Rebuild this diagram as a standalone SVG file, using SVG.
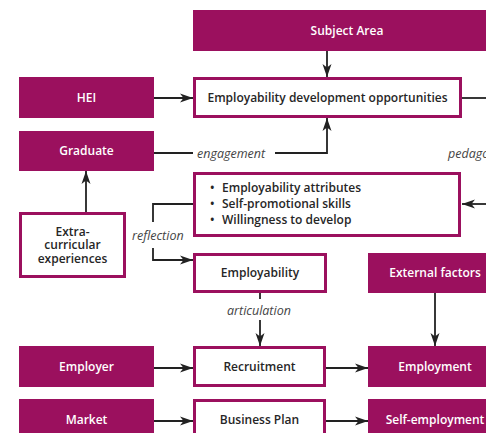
<svg xmlns="http://www.w3.org/2000/svg" width="486" height="433" viewBox="0 0 486 433">
  <style>
    .fill { fill: #9b105e; }
    .outline { fill: #ffffff; stroke: #9b105e; stroke-width: 3; }
    .lt { font-family: "Open Sans", "Liberation Sans", sans-serif; font-weight: 600; font-size: 12px; fill: #ffffff; text-anchor: middle; }
    .dt { font-family: "Open Sans", "Liberation Sans", sans-serif; font-weight: 600; font-size: 12px; fill: #262626; text-anchor: middle; }
    .bl { font-family: "Open Sans", "Liberation Sans", sans-serif; font-weight: 600; font-size: 12px; fill: #262626; }
    .it { font-family: "Open Sans", "Liberation Sans", sans-serif; font-style: italic; font-size: 12.5px; fill: #444444; }
    .ln { fill: none; stroke: #222222; stroke-width: 1.8; }
    .arr { marker-end: url(#head); }
  </style>
  <defs>
    <marker id="head" markerUnits="userSpaceOnUse" markerWidth="14" markerHeight="10" refX="13" refY="5" orient="auto">
      <path d="M0,0.5 L13,5 L0,9.5 L3.5,5 Z" fill="#222222"/>
    </marker>
  </defs>

  <rect width="486" height="433" fill="#ffffff"/>

  <!-- connectors -->
  <g id="connectors">
    <line class="ln arr" x1="327" y1="51" x2="327" y2="77"/>
    <line class="ln arr" x1="154" y1="98" x2="193" y2="98"/>
    <line class="ln" x1="462" y1="98" x2="486" y2="98"/>
    <line class="ln" x1="154" y1="153" x2="193" y2="153"/>
    <polyline class="ln arr" points="275,153 327,153 327,118"/>
    <line class="ln arr" x1="486" y1="204" x2="462" y2="204"/>
    <line class="ln arr" x1="86" y1="212" x2="86" y2="171"/>
    <polyline class="ln" points="193,204 153,204 153,222"/>
    <polyline class="ln arr" points="153,248 153,260 193,260"/>
    <line class="ln" x1="260" y1="293" x2="260" y2="299"/>
    <line class="ln arr" x1="260" y1="320" x2="260" y2="346"/>
    <line class="ln arr" x1="435" y1="293" x2="435" y2="346"/>
    <line class="ln arr" x1="154" y1="368" x2="193" y2="368"/>
    <line class="ln arr" x1="326" y1="368" x2="368" y2="368"/>
    <line class="ln arr" x1="154" y1="421" x2="193" y2="421"/>
    <line class="ln arr" x1="326" y1="421" x2="368" y2="421"/>
    <text class="it" x="197" y="157.5">engagement</text>
    <text class="it" x="448" y="157.5">pedagogy</text>
    <text class="it" x="132" y="239.5">reflection</text>
    <text class="it" x="227" y="314.5">articulation</text>
  </g>

  <!-- nodes -->
  <g id="subject-area">
    <rect class="fill" x="193" y="10" width="308" height="41"/>
    <text class="lt" x="347" y="34.5">Subject Area</text>
  </g>
  <g id="hei">
    <rect class="fill" x="19" y="77" width="135" height="41"/>
    <text class="lt" x="86.5" y="101.5">HEI</text>
  </g>
  <g id="opportunities">
    <rect class="outline" x="194.5" y="78.5" width="266" height="38"/>
    <text class="dt" x="327.5" y="101.5">Employability development opportunities</text>
  </g>
  <g id="graduate">
    <rect class="fill" x="19" y="131" width="135" height="40"/>
    <text class="lt" x="86.5" y="155">Graduate</text>
  </g>
  <g id="attributes">
    <rect class="outline" x="194.5" y="173.5" width="265" height="62"/>
    <text class="bl" x="210" y="192">•</text>
    <text class="bl" x="222" y="192">Employability attributes</text>
    <text class="bl" x="210" y="208">•</text>
    <text class="bl" x="222" y="208">Self-promotional skills</text>
    <text class="bl" x="210" y="223.5">•</text>
    <text class="bl" x="222" y="223.5">Willingness to develop</text>
  </g>
  <g id="extra-curricular">
    <rect class="outline" x="20.5" y="213.5" width="104" height="63"/>
    <text class="dt" x="72.5" y="235.5">Extra-</text>
    <text class="dt" x="72.5" y="249">curricular</text>
    <text class="dt" x="72.5" y="262.5">experiences</text>
  </g>
  <g id="employability">
    <rect class="outline" x="194.5" y="254.5" width="131" height="37"/>
    <text class="dt" x="260" y="277">Employability</text>
  </g>
  <g id="external-factors">
    <rect class="fill" x="368" y="253" width="134" height="40"/>
    <text class="lt" x="435" y="277">External factors</text>
  </g>
  <g id="employer">
    <rect class="fill" x="19" y="346" width="135" height="41"/>
    <text class="lt" x="86.5" y="370.5">Employer</text>
  </g>
  <g id="recruitment">
    <rect class="outline" x="194.5" y="347.5" width="130" height="38"/>
    <text class="dt" x="259.5" y="370.5">Recruitment</text>
  </g>
  <g id="employment">
    <rect class="fill" x="368" y="346" width="134" height="41"/>
    <text class="lt" x="435" y="370.5">Employment</text>
  </g>
  <g id="market">
    <rect class="fill" x="19" y="399" width="135" height="41"/>
    <text class="lt" x="86.5" y="423.5">Market</text>
  </g>
  <g id="business-plan">
    <rect class="outline" x="194.5" y="400.5" width="130" height="38"/>
    <text class="dt" x="259.5" y="423.5">Business Plan</text>
  </g>
  <g id="self-employment">
    <rect class="fill" x="368" y="399" width="134" height="41"/>
    <text class="lt" x="435" y="423.5">Self-employment</text>
  </g>
</svg>
